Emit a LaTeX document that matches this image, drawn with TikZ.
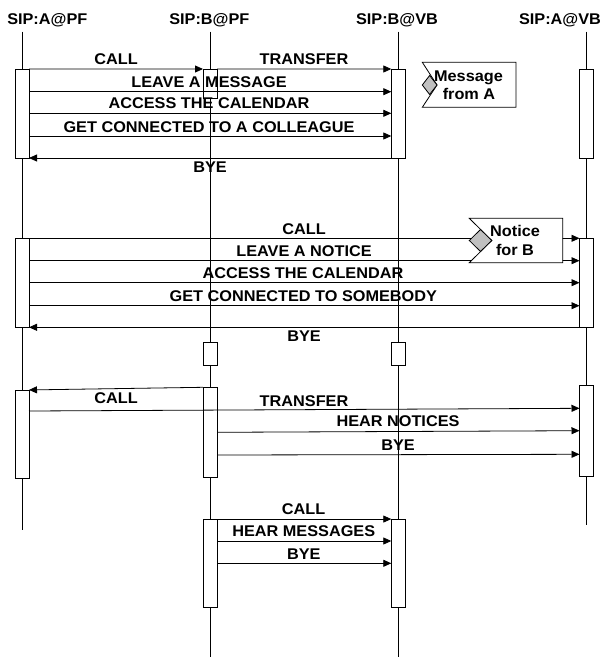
\documentclass[tikz,border=0pt]{standalone}
\usepackage{fontspec}
\setmainfont{Liberation Sans}
\newfontfamily\lblfamily{Liberation Sans}[FakeStretch=1.05]
\usetikzlibrary{arrows.meta}
\definecolor{notegrey}{HTML}{C0C0C0}
\tikzset{
  lbl/.style={font=\lblfamily\bfseries\fontsize{15.5bp}{18.3bp}\selectfont, anchor=base, inner sep=0pt, outer sep=0pt},
  life/.style={line width=0.8bp, draw=black},
  act/.style={draw=black, fill=white, line width=0.8bp, rectangle, minimum width=14bp, inner sep=0pt, outer sep=0pt},
  msg/.style={line width=0.8bp, draw=black, -{Triangle[length=8bp,width=7bp]}},
  notebox/.style={draw=black, fill=white, line width=0.8bp},
  marker/.style={draw=black, fill=notegrey, line width=0.8bp}
}
\begin{document}
\begin{tikzpicture}[x=1bp,y=-1bp]
\useasboundingbox (0,0) rectangle (600,657);
% headers
\node[lbl] (h1) at (47.3,25) {SIP:A@PF};
\node[lbl] (h2) at (209.3,25) {SIP:B@PF};
\node[lbl] (h3) at (397,25) {SIP:B@VB};
\node[lbl] (h4) at (560,25) {SIP:A@VB};
% lifelines
\coordinate (l1t) at (22,31.7);    \coordinate (l1b) at (22,530);
\coordinate (l2t) at (210,31.7);   \coordinate (l2b) at (210,657);
\coordinate (l3t) at (398.3,31.7); \coordinate (l3b) at (398.3,657);
\coordinate (l4t) at (586.5,31.7); \coordinate (l4b) at (586.5,525);
\draw[life] (l1t) -- (l1b);
\draw[life] (l2t) -- (l2b);
\draw[life] (l3t) -- (l3b);
\draw[life] (l4t) -- (l4b);
% activation boxes
\node[act, minimum height=89bp] (a1) at (22,113.5) {};
\node[act, minimum height=29bp] (b1) at (210,83.5) {};
\node[act, minimum height=89bp] (v1) at (398.3,113.5) {};
\node[act, minimum height=89bp] (w1) at (586.5,113.5) {};
\node[act, minimum height=89bp] (a2) at (22,282.8) {};
\node[act, minimum height=89bp] (w2) at (586.5,282.8) {};
\node[act, minimum height=22.3bp] (b2) at (210,353.8) {};
\node[act, minimum height=22.3bp] (v2) at (398.3,353.8) {};
\node[act, minimum height=90bp] (b3) at (210,432.3) {};
\node[act, minimum height=88.5bp] (a3) at (22,434.2) {};
\node[act, minimum height=91bp] (w3) at (586.5,430.5) {};
\node[act, minimum height=88.3bp] (b4) at (210,563.2) {};
\node[act, minimum height=88.3bp] (v4) at (398.3,563.2) {};
% block 1
\draw[msg] (a1.north east) -- (b1.north west);
\draw[msg] (b1.north east) -- (v1.north west);
\draw[msg] (a1.east |- 0,91.7) -- (v1.west |- 0,91.7);
\draw[msg] (a1.east |- 0,113.3) -- (v1.west |- 0,113.3);
\draw[msg] (a1.east |- 0,136) -- (v1.west |- 0,136);
\draw[msg] (v1.south west) -- (a1.south east);
\node[lbl] (m1) at (116,65) {CALL};
\node[lbl] (m2) at (304,65) {TRANSFER};
\node[lbl] (m3) at (209,87.3) {LEAVE A MESSAGE};
\node[lbl] (m4) at (209,109) {ACCESS THE CALENDAR};
\node[lbl] (m5) at (209,132.3) {GET CONNECTED TO A COLLEAGUE};
\node[lbl] (m6) at (210,172.3) {BYE};
% block 2
\draw[msg] (a2.north east) -- (w2.north west);
\draw[msg] (a2.east |- 0,260.7) -- (w2.west |- 0,260.7);
\draw[msg] (a2.east |- 0,282.7) -- (w2.west |- 0,282.7);
\draw[msg] (a2.east |- 0,305.7) -- (w2.west |- 0,305.7);
\draw[msg] (w2.south west) -- (a2.south east);
\node[lbl] (n1) at (304,234) {CALL};
\node[lbl] (n2) at (304,256.7) {LEAVE A NOTICE};
\node[lbl] (n3) at (303,278.3) {ACCESS THE CALENDAR};
\node[lbl] (n4) at (303.3,301.7) {GET CONNECTED TO SOMEBODY};
\node[lbl] (n5) at (304,341.5) {BYE};
% block 3
\draw[msg] (b3.north west) -- (a3.north east);
\draw[msg] (a3.east |- 0,411) -- (w3.west |- 0,408.3);
\draw[msg] (b3.east |- 0,432.3) -- (w3.west |- 0,430.7);
\draw[msg] (b3.east |- 0,455) -- (w3.west |- 0,454.3);
\node[lbl] (p1) at (116,403.3) {CALL};
\node[lbl] (p2) at (304,406) {TRANSFER};
\node[lbl] (p3) at (398,426.7) {HEAR NOTICES};
\node[lbl] (p4) at (398,450) {BYE};
% block 4
\draw[msg] (b4.north east) -- (v4.north west);
\draw[msg] (b4.east |- 0,541) -- (v4.west |- 0,541);
\draw[msg] (b4.east |- 0,563.3) -- (v4.west |- 0,563.3);
\node[lbl] (q1) at (303.5,514) {CALL};
\node[lbl] (q2) at (303.7,536.7) {HEAR MESSAGES};
\node[lbl] (q3) at (303.8,559.3) {BYE};
% note 1
\draw[notebox] (422.3,62.3) -- (516,62.3) -- (516,107.3) -- (422.3,107.3) -- (437,85) -- cycle;
\draw[marker] (422.3,85) -- (429.6,75.5) -- (437,85) -- (429.6,94.5) -- cycle;
\node[lbl] (t1) at (468.5,81.7) {Message};
\node[lbl] (t2) at (469,100) {from A};
% note 2
\draw[notebox] (469.3,218.3) -- (562.7,218.3) -- (562.7,262.7) -- (469.3,262.7) -- (491.7,240.5) -- cycle;
\draw[marker] (469.3,240.5) -- (480.5,229.5) -- (491.7,240.5) -- (480.5,251.5) -- cycle;
\node[lbl] (t3) at (515,236.7) {Notice};
\node[lbl] (t4) at (515,255) {for B};
\end{tikzpicture}
\end{document}
